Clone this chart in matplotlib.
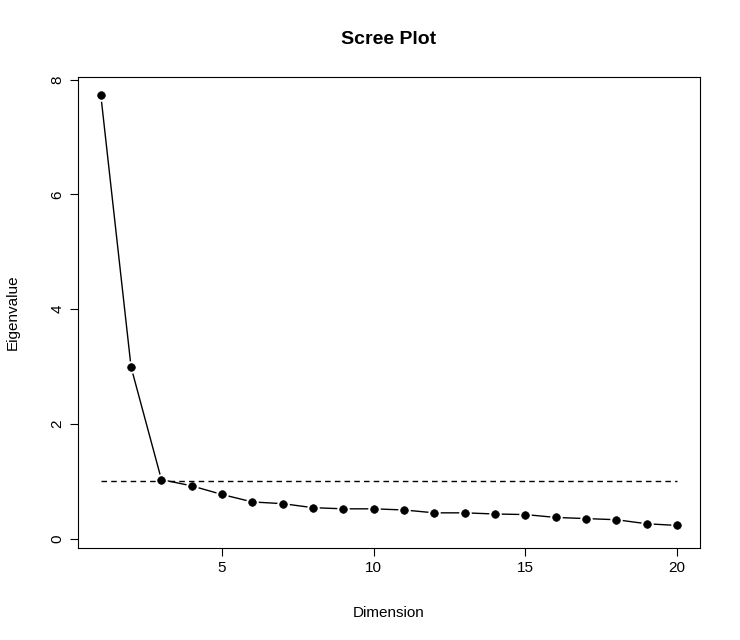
import matplotlib
matplotlib.use("Agg")
import matplotlib.pyplot as plt

dims = list(range(1, 21))
eigen = [7.74, 2.99, 1.03, 0.92, 0.77, 0.64, 0.61, 0.54, 0.52, 0.52,
         0.50, 0.45, 0.45, 0.43, 0.42, 0.37, 0.35, 0.33, 0.26, 0.23]
xticks = [5, 10, 15, 20]
yticks = [0, 2, 4, 6, 8]

plt.rcParams['font.family'] = ['Liberation Sans', 'DejaVu Sans']
fig = plt.figure(figsize=(7.4, 6.4), dpi=100)
ax = fig.add_axes([0.105, 0.144, 0.841, 0.736])
ax.plot(dims, eigen, color='black', lw=1, zorder=1)
ax.plot(dims, eigen, 'o', color='black', ms=5.5, mec='white', mew=3.5, zorder=2)
ax.plot(dims, eigen, 'o', color='black', ms=5.5, mec='black', mew=0.5, zorder=3)
ax.plot([1, 20], [1, 1], color='black', lw=1, ls=(0, (4, 3)), zorder=4)
ax.set_xlim(0.24, 20.76)
ax.set_ylim(-0.16, 8.05)
ax.set_xticks(xticks)
ax.set_yticks(yticks)
ax.tick_params(labelsize=11, length=6)
for lab in ax.get_yticklabels():
    lab.set_rotation(90)
    lab.set_va('center')
ax.set_xlabel('Dimension', fontsize=11, labelpad=22)
ax.set_ylabel('Eigenvalue', fontsize=11, labelpad=22)
fig.text(0.525, 1 - 40 / 640, 'Scree Plot', ha='center', va='center',
         fontsize=14, fontweight='bold')
fig.savefig('out.png')
